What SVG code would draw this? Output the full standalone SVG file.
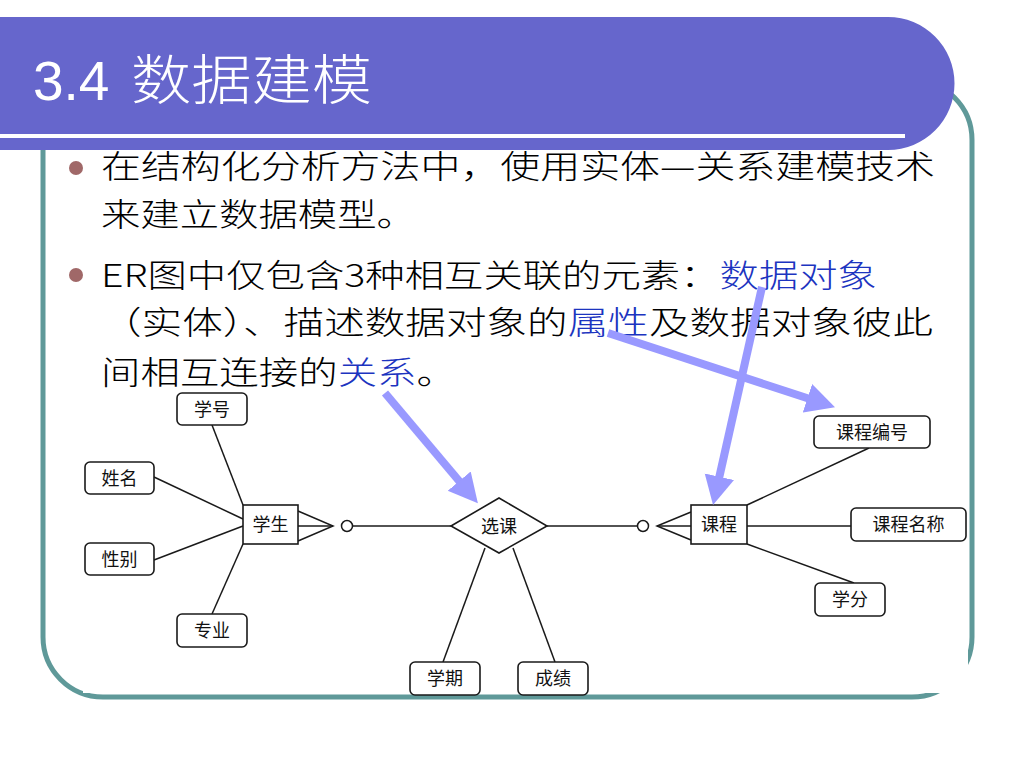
<svg xmlns="http://www.w3.org/2000/svg" width="1024" height="768" viewBox="0 0 1024 768">
<defs>
<style>
.body{font-family:"Noto Sans CJK SC","Noto Sans",sans-serif;font-size:32px;font-weight:300;fill:#000}
.blue{fill:#1c34c0}
.lbl{font-family:"Noto Sans CJK SC","Noto Sans",sans-serif;font-size:18px;fill:#111;text-anchor:middle}
.attr{fill:#fff;stroke:#1a1a1a;stroke-width:1.6}
.ent{fill:#fff;stroke:#1a1a1a;stroke-width:1.6}
.ln{stroke:#1a1a1a;stroke-width:1.5;fill:none}
.arr{stroke:#9999ff;stroke-width:8;fill:none;marker-end:url(#ah)}
</style>
<marker id="ah" markerUnits="userSpaceOnUse" markerWidth="30" markerHeight="32" refX="9" refY="16" orient="auto">
<path d="M0,1 L29,16 L0,31 Z" fill="#9999ff"/>
</marker>
</defs>
<rect x="0" y="0" width="1024" height="768" fill="#fff"/>
<!-- frame -->
<rect x="43" y="80" width="929" height="617" rx="60" ry="60" fill="none" stroke="#5f9999" stroke-width="5"/>
<!-- header -->
<path d="M0,17 H888 A66.5,66.5 0 0 1 888,150 H0 Z" fill="#6666cc"/>
<rect x="0" y="134" width="905" height="4" fill="#fff"/>
<text x="33" y="100" font-family="Liberation Sans, Arial, sans-serif" font-size="55" fill="#fff">3.4</text>
<text x="131" y="100" font-family="Noto Sans CJK SC, sans-serif" font-size="54" font-weight="300" fill="#fff" textLength="241" lengthAdjust="spacingAndGlyphs">数据建模</text>
<!-- bullets -->
<circle cx="76" cy="168" r="7" fill="#a06868"/>
<circle cx="76" cy="275" r="7" fill="#a06868"/>
<text class="body" x="101" y="178" textLength="834" lengthAdjust="spacingAndGlyphs">在结构化分析方法中，使用实体—关系建模技术</text>
<text class="body" x="101" y="226" textLength="315" lengthAdjust="spacingAndGlyphs">来建立数据模型。</text>
<text class="body" x="101" y="287" textLength="776" lengthAdjust="spacingAndGlyphs">ER图中仅包含3种相互关联的元素：<tspan class="blue">数据对象</tspan></text>
<text class="body" x="101" y="334" textLength="832" lengthAdjust="spacingAndGlyphs">（实体）、描述数据对象的<tspan class="blue">属性</tspan>及数据对象彼此</text>
<text class="body" x="101" y="384" textLength="355" lengthAdjust="spacingAndGlyphs">间相互连接的<tspan class="blue">关系</tspan>。</text>
<!-- ER picture background -->
<rect x="83" y="392" width="885" height="301" fill="#fff"/>
<!-- connectors -->
<g id="connectors">
<line class="ln" x1="212" y1="425" x2="243" y2="505"/>
<line class="ln" x1="154" y1="477" x2="243" y2="519"/>
<line class="ln" x1="154" y1="560" x2="243" y2="526"/>
<line class="ln" x1="212" y1="614" x2="243" y2="544"/>
<polyline class="ln" points="298,511 333,526 298,541"/>
<line class="ln" x1="298" y1="526" x2="333" y2="526"/>
<line class="ln" x1="352.5" y1="526" x2="451" y2="526"/>
<line class="ln" x1="547" y1="526" x2="637.5" y2="526"/>
<polyline class="ln" points="691,512 657,526 691,540"/>
<line class="ln" x1="657" y1="526" x2="691" y2="526"/>
<line class="ln" x1="747" y1="505" x2="869" y2="448"/>
<line class="ln" x1="747" y1="526" x2="851" y2="526"/>
<line class="ln" x1="747" y1="544" x2="854" y2="583"/>
<line class="ln" x1="485" y1="548" x2="443" y2="662"/>
<line class="ln" x1="513" y1="548" x2="555" y2="662"/>
<circle class="ln" cx="347" cy="526" r="5.5" fill="#fff" stroke-width="1.8"/>
<circle class="ln" cx="643" cy="526" r="5.5" fill="#fff" stroke-width="1.8"/>
</g>
<!-- nodes -->
<g id="n-xuehao"><rect class="attr" x="177" y="393" width="70" height="32" rx="5"/><text class="lbl" x="212" y="415.5">学号</text></g>
<g id="n-xingming"><rect class="attr" x="85" y="462" width="69" height="32" rx="5"/><text class="lbl" x="119.5" y="484.5">姓名</text></g>
<g id="n-xingbie"><rect class="attr" x="85" y="543" width="69" height="32" rx="5"/><text class="lbl" x="119.5" y="565.5">性别</text></g>
<g id="n-zhuanye"><rect class="attr" x="177" y="614" width="70" height="33" rx="5"/><text class="lbl" x="212" y="637">专业</text></g>
<g id="n-xuesheng"><rect class="ent" x="243" y="505" width="55" height="39"/><text class="lbl" x="270.5" y="531">学生</text></g>
<g id="n-xuanke"><polygon class="ent" points="451,526 499,498 547,526 499,553"/><text class="lbl" x="499" y="532.5">选课</text></g>
<g id="n-kecheng"><rect class="ent" x="691" y="505" width="56" height="39"/><text class="lbl" x="719" y="531">课程</text></g>
<g id="n-kcbh"><rect class="attr" x="814" y="416" width="116" height="32" rx="5"/><text class="lbl" x="872" y="438.5">课程编号</text></g>
<g id="n-kcmc"><rect class="attr" x="851" y="508" width="115" height="33" rx="5"/><text class="lbl" x="908.5" y="531">课程名称</text></g>
<g id="n-xuefen"><rect class="attr" x="815" y="583" width="70" height="33" rx="5"/><text class="lbl" x="850" y="606">学分</text></g>
<g id="n-xueqi"><rect class="attr" x="410" y="662" width="70" height="33" rx="5"/><text class="lbl" x="445" y="685">学期</text></g>
<g id="n-chengji"><rect class="attr" x="518" y="662" width="70" height="33" rx="5"/><text class="lbl" x="553" y="685">成绩</text></g>
<!-- callout arrows -->
<g id="callouts">
<line class="arr" x1="385" y1="393" x2="465" y2="488"/>
<line class="arr" x1="608" y1="333" x2="816" y2="401"/>
<line class="arr" x1="762" y1="287" x2="717.4" y2="485.5"/>
</g>
</svg>
